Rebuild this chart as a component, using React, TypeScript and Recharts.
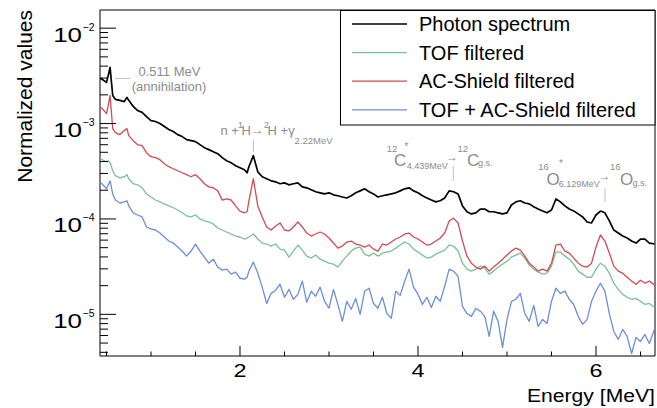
import React from "react";
import { LineChart, Line, XAxis, YAxis, ReferenceArea } from "recharts";

// spectrum values, all in units of 1e-5
const UNIT = 1e-5;

const ENERGY = [
  0.43, 0.45, 0.5, 0.52, 0.54, 0.57, 0.6, 0.65, 0.7, 0.73,
  0.75, 0.8, 0.85, 0.9, 0.95, 1, 1.05, 1.1, 1.15, 1.2,
  1.25, 1.3, 1.35, 1.4, 1.45, 1.5, 1.55, 1.6, 1.65, 1.7,
  1.75, 1.8, 1.85, 1.9, 1.95, 2, 2.05, 2.08, 2.1, 2.15,
  2.2,
  2.25, 2.3, 2.35, 2.4, 2.45, 2.5, 2.55, 2.6, 2.65, 2.7,
  2.75, 2.8, 2.85, 2.9, 2.95, 3, 3.05, 3.1, 3.15, 3.2,
  3.25, 3.3, 3.35, 3.4, 3.45, 3.5, 3.55, 3.6, 3.65, 3.7,
  3.75, 3.8, 3.85, 3.9, 3.95, 4, 4.05, 4.1, 4.15, 4.2,
  4.25, 4.3, 4.35, 4.4, 4.45, 4.5, 4.55, 4.6, 4.65, 4.7,
  4.75, 4.8, 4.85, 4.9, 4.95, 5, 5.05, 5.1, 5.15, 5.2,
  5.25, 5.3, 5.35, 5.4, 5.45, 5.5, 5.55, 5.6, 5.65, 5.7,
  5.75, 5.8, 5.85, 5.9, 5.95, 6, 6.05, 6.1, 6.15, 6.2,
  6.25, 6.3, 6.35, 6.4, 6.45, 6.5, 6.55, 6.6, 6.66,
];

const PHOTON = [
  298, 291, 270, 320, 389, 197, 179, 175, 170, 188,
  175, 151, 137, 131, 118, 107.5, 105, 100, 93, 86.5,
  82.4, 76.6, 73, 67.9, 66.2, 64.7, 60.1, 55.9, 53.3, 50.7,
  48.3, 43.9, 40.8, 38.9, 36.1, 34.4, 32.8, 30.5, 35.3, 46.1,
  31.2,
  27.7, 26.4, 25.1, 24.5, 23.4, 23.9, 22.8, 23.4, 23.9, 21.7,
  21.2, 20.2, 19.3, 18.8, 18.3, 18.8, 17.9, 17.5, 17.0, 16.6,
  17.5, 18.8, 19.7, 20.7, 19.3, 18.3, 17.0, 17.5, 17.9, 18.3,
  18.8, 19.7, 20.7, 21.2, 19.7, 18.8, 17.5, 16.6, 15.8, 15.1,
  15.5, 16.6, 19.7, 19.3, 18.3, 13.7, 11.9, 11.3, 11.6, 12.7,
  12.7, 11.9, 11.9, 11.6, 11.3, 11.6, 14.0, 15.1, 15.5, 14.7,
  14.4, 13.4, 12.7, 12.1, 11.6, 12.4, 16.2, 15.1, 13.7, 12.7,
  12.1, 11.3, 10.5, 9.3, 9.08, 11.0, 12.1, 11.6, 9.53, 7.66,
  7.12, 6.62, 6.31, 5.87, 5.59, 6.16, 6.16, 5.59, 5.46,
];

const TOF = [
  42.8, 41.8, 39.8, 40.8, 38.9, 32.0, 28.4, 27.0, 27.7, 29.1,
  26.4, 23.4, 22.8, 21.2, 18.3, 17.0, 15.8, 15.1, 14.4, 13.7,
  13.1, 12.4, 11.6, 10.8, 10.5, 11.0, 10.0, 9.53, 9.30, 8.86,
  8.04, 7.66, 7.30, 6.95, 6.62, 6.47, 6.16, 6.31, 6.47, 6.95,
  6.16,
  5.59, 5.46, 5.20, 5.46, 4.83, 4.72, 3.98, 4.61, 5.33, 4.72,
  4.08, 3.89, 4.18, 3.79, 3.61, 3.44, 3.36, 3.13, 3.61, 4.08,
  4.61, 4.95, 5.07, 4.28, 4.08, 4.39, 4.08, 4.39, 4.50, 4.61,
  4.95, 5.33, 5.73, 5.46, 4.83, 4.50, 4.18, 3.89, 3.98, 4.28,
  4.50, 4.72, 5.33, 5.20, 4.61, 3.44, 2.98, 2.84, 2.98, 3.20,
  3.05, 2.64, 2.84, 3.13, 3.36, 3.61, 3.98, 4.18, 4.39, 3.89,
  3.28, 2.98, 2.77, 2.64, 2.70, 3.20, 4.50, 4.50, 4.08, 3.79,
  3.36, 2.84, 2.64, 2.45, 2.45, 2.98, 3.44, 3.20, 2.70, 2.12,
  1.83, 1.62, 1.51, 1.44, 1.47, 1.37, 1.27, 1.30, 1.18,
];

const AC_SHIELD = [
  147, 144, 127, 155, 197, 88.6, 80.4, 76.6, 84.4, 88.6,
  74.8, 66.2, 60.1, 58.7, 49.5, 45.0, 43.9, 41.8, 37.9, 35.3,
  33.6, 32.0, 30.5, 29.1, 27.7, 29.1, 26.4, 23.4, 21.7, 21.2,
  19.7, 15.8, 16.2, 15.8, 13.7, 12.1, 11.6, 11.9, 15.5, 26.4,
  13.7,
  10.5, 8.24, 7.66, 8.44, 9.08, 7.66, 7.48, 8.24, 9.30, 8.24,
  7.12, 6.62, 6.95, 7.30, 6.95, 6.31, 5.59, 4.95, 5.20, 5.73,
  5.87, 5.46, 5.33, 5.07, 5.33, 4.83, 4.61, 5.46, 5.33, 5.73,
  6.16, 6.47, 6.95, 7.12, 6.47, 6.16, 5.73, 5.33, 5.46, 5.87,
  6.31, 7.12, 9.53, 10.2, 9.08, 5.87, 4.08, 3.44, 3.13, 2.98,
  3.20, 2.84, 3.13, 3.44, 3.79, 4.18, 4.61, 4.95, 4.72, 4.08,
  3.44, 3.13, 2.84, 2.98, 2.84, 3.44, 5.33, 5.46, 4.61, 4.39,
  3.89, 3.44, 3.20, 3.13, 3.44, 5.07, 6.79, 5.87, 4.39, 3.20,
  2.84, 2.70, 2.45, 2.23, 2.07, 2.28, 2.12, 2.23, 2.02,
];

const TOF_AC = [
  23.9, 23.4, 20.7, 22.8, 25.1, 18.3, 15.8, 14.7, 15.1, 15.5,
  13.7, 11.6, 11.0, 10.5, 8.24, 7.85, 7.66, 7.12, 6.47, 5.87,
  5.59, 5.07, 4.61, 4.08, 4.61, 5.46, 4.61, 3.98, 3.44, 3.79,
  3.13, 2.91, 2.98, 2.64, 2.77, 2.39, 2.34, 2.45, 2.84, 3.53,
  2.70,
  1.93, 1.30, 1.66, 1.79, 2.07, 1.51, 1.83, 1.44, 1.62, 2.23,
  1.34, 1.75, 1.55, 1.93, 1.37, 1.16, 1.83, 1.27, 0.844, 1.37,
  1.13, 1.47, 1.0, 1.75, 1.88, 1.30, 1.16, 1.51, 1.02, 0.908,
  1.75, 1.58, 2.23, 2.98, 1.93, 1.62, 1.27, 1.51, 1.18, 1.55,
  1.37, 1.97, 2.98, 2.84, 2.51, 1.21, 1.02, 0.953, 1.16, 1.08,
  0.953, 0.587, 1.08, 0.844, 0.45, 0.886, 1.37, 1.44, 1.66, 1.02,
  0.844, 1.24, 0.748, 0.886, 0.804, 1.37, 1.88, 1.66, 1.75, 1.44,
  1.27, 0.953, 0.785, 0.886, 1.37, 1.75, 2.12, 1.75, 1.02, 0.662,
  0.546, 0.695, 0.587, 0.389, 0.573, 0.52, 0.616, 0.495, 0.712,
];

const X_TICKS = [0.5, 1, 1.5, 2, 2.5, 3, 3.5, 4, 4.5, 5, 5.5, 6, 6.5];
const X_MAJOR = [2, 4, 6];
const Y_DECADES = [-6, -5, -4, -3, -2];
const Y_STEPS = [1, 2, 3, 4, 5, 6, 7, 8, 9];

const X_DOMAIN: [number, number] = [0.427, 6.663];
const Y_DOMAIN: [number, number] = [3.66e-6, 0.0155];

const Y_TICKS = Y_DECADES.flatMap((d) => Y_STEPS.map((m) => m * Math.pow(10, d))).filter(
  (v) => v >= Y_DOMAIN[0] && v <= Y_DOMAIN[1]
);

const SERIES = [
  { key: "photon", name: "Photon spectrum", color: "#000000", width: 1.7, values: PHOTON },
  { key: "tof", name: "TOF filtered", color: "#7dbf98", width: 1.3, values: TOF },
  { key: "ac", name: "AC-Shield filtered", color: "#d24b50", width: 1.3, values: AC_SHIELD },
  { key: "both", name: "TOF + AC-Shield filtered", color: "#6c8fd8", width: 1.3, values: TOF_AC },
];

const rows = ENERGY.map((e, i) => {
  const row: Record<string, number> = { energy: e };
  SERIES.forEach((s) => (row[s.key] = s.values[i] * UNIT));
  return row;
});

const FONT = '"Liberation Sans", Arial, Helvetica, sans-serif';
const GREY = "#8c8c8c";
const GREY_LINE = "#c0c0c0";

function YTick({ x, y, payload }: any) {
  const lg = Math.log10(payload.value);
  const exp = Math.round(lg);
  const major = Math.abs(lg - exp) < 1e-6;
  return (
    <g>
      <line x1={x} x2={x + (major ? 16 : 8)} y1={y} y2={y} stroke="#000" strokeWidth={1} />
      {major && (
        <g fontFamily={FONT} fill="#000">
          <g transform={`translate(${x - 18},${y + 13.5})`}>
            <text transform="scale(1.33,1)" textAnchor="end" fontSize={19.5}>
              10
            </text>
          </g>
          <text x={x - 17.5} y={y + 2.5} fontSize={10.5}>
            {`\u2212${-exp}`}
          </text>
        </g>
      )}
    </g>
  );
}

function XTick({ x, y, payload }: any) {
  const major = X_MAJOR.includes(payload.value);
  return (
    <g>
      <line x1={x} x2={x} y1={y} y2={y - (major ? 10 : 4.5)} stroke="#000" strokeWidth={1} />
      {major && (
        <g transform={`translate(${x},${y + 21})`}>
          <text transform="scale(1.3,1)" textAnchor="middle" fontSize={18} fontFamily={FONT} fill="#000">
            {payload.value}
          </text>
        </g>
      )}
    </g>
  );
}

// a stretched arrow glyph, like ROOT's #rightarrow
function Arrow({ x, y, w }: { x: number; y: number; w: number }) {
  return (
    <g transform={`translate(${x},${y}) scale(${w / 11},1)`}>
      <text x={0} y={0} fontSize={12}>
        →
      </text>
    </g>
  );
}

function Overlay() {
  return (
    <svg
      width={657}
      height={408}
      style={{ position: "absolute", left: 0, top: 0, pointerEvents: "none" }}
    >
      {/* axis titles */}
      <text
        transform="translate(31.5,10) rotate(-90)"
        textAnchor="end"
        fontSize={21}
        fontFamily={FONT}
        fill="#000"
      >
        Normalized values
      </text>
      <text
        x={527}
        y={401.7}
        fontSize={17.5}
        fontFamily={FONT}
        textLength={128}
        lengthAdjust="spacingAndGlyphs"
        fill="#000"
      >
        Energy [MeV]
      </text>

      {/* peak annotations */}
      <g stroke={GREY_LINE} strokeWidth={1}>
        <line x1={115} x2={130} y1={78.5} y2={78.5} />
        <line x1={253.5} x2={253.5} y1={140} y2={152} />
        <line x1={453.3} x2={453.3} y1={166} y2={181} />
        <line x1={605} x2={605} y1={188} y2={202} />
      </g>
      <g fill={GREY} fontFamily={FONT}>
        <text x={169.5} y={76} fontSize={13} textAnchor="middle">
          0.511 MeV
        </text>
        <text x={169} y={91} fontSize={13} textAnchor="middle">
          (annihilation)
        </text>

        <text fontSize={13}>
          <tspan x={220.5} y={135}>n +</tspan>
          <tspan x={238} y={128} fontSize={9}>1</tspan>
          <tspan x={241.5} y={135}>H</tspan>
          <tspan x={264} y={128} fontSize={9}>2</tspan>
          <tspan x={267.5} y={135}>H +</tspan>
          <tspan x={288.3} y={135}>γ</tspan>
          <tspan x={294.5} y={144} fontSize={9.5}>2.22MeV</tspan>
        </text>
        <Arrow x={250.5} y={134} w={12.5} />

        <text>
          <tspan x={386.7} y={151.7} fontSize={9.5}>12</tspan>
          <tspan x={394} y={165.7} fontSize={17}>C</tspan>
          <tspan x={404.5} y={150} fontSize={10}>*</tspan>
          <tspan x={406.7} y={169.3} fontSize={9}>4.439MeV</tspan>
          <tspan x={457.5} y={151.7} fontSize={9.5}>12</tspan>
          <tspan x={467} y={165.7} fontSize={17}>C</tspan>
          <tspan x={478} y={166} fontSize={9}>g.s.</tspan>
        </text>
        <Arrow x={446} y={161} w={11} />

        <text>
          <tspan x={538.3} y={170} fontSize={9.5}>16</tspan>
          <tspan x={546.5} y={185} fontSize={17}>O</tspan>
          <tspan x={559} y={167} fontSize={10}>*</tspan>
          <tspan x={558.8} y={186.5} fontSize={9}>6.129MeV</tspan>
          <tspan x={610} y={170} fontSize={9.5}>16</tspan>
          <tspan x={620} y={185} fontSize={17}>O</tspan>
          <tspan x={632.5} y={186} fontSize={9}>g.s.</tspan>
        </text>
        <Arrow x={598.5} y={180} w={11} />
      </g>

      {/* legend */}
      <rect x={340.5} y={10.5} width={314.5} height={114.5} fill="#fff" stroke="#000" strokeWidth={1} />
      {SERIES.map((s, i) => {
        const ly = 24 + i * 28.6;
        return (
          <g key={s.key}>
            <line x1={352} x2={407} y1={ly} y2={ly} stroke={s.color} strokeWidth={s.width} />
            <text x={419} y={ly + 7} fontSize={20} fontFamily={FONT} fill="#000">
              {s.name}
            </text>
          </g>
        );
      })}
    </svg>
  );
}

export default function App() {
  return (
    <div style={{ position: "absolute", left: 0, top: 0, width: 657, height: 408, background: "#fff" }}>
      <LineChart width={657} height={408} data={rows} margin={{ top: 10, right: 2, bottom: 51, left: 99 }}>
        <XAxis
          dataKey="energy"
          type="number"
          domain={X_DOMAIN}
          allowDataOverflow
          ticks={X_TICKS}
          interval={0}
          height={1}
          tickSize={0}
          tickMargin={0}
          tickLine={false}
          axisLine={false}
          tick={<XTick />}
        />
        <YAxis
          type="number"
          scale="log"
          domain={Y_DOMAIN}
          allowDataOverflow
          ticks={Y_TICKS}
          interval={0}
          width={1}
          tickSize={0}
          tickMargin={0}
          tickLine={false}
          axisLine={false}
          tick={<YTick />}
        />
        {SERIES.map((s) => (
          <Line
            key={s.key}
            type="linear"
            dataKey={s.key}
            stroke={s.color}
            strokeWidth={s.width}
            strokeLinejoin="round"
            dot={false}
            activeDot={false}
            isAnimationActive={false}
          />
        ))}
        <ReferenceArea
          x1={X_DOMAIN[0]}
          x2={X_DOMAIN[1]}
          y1={Y_DOMAIN[0]}
          y2={Y_DOMAIN[1]}
          fill="none"
          stroke="#000"
          strokeWidth={1}
          ifOverflow="visible"
        />
      </LineChart>
      <Overlay />
    </div>
  );
}
